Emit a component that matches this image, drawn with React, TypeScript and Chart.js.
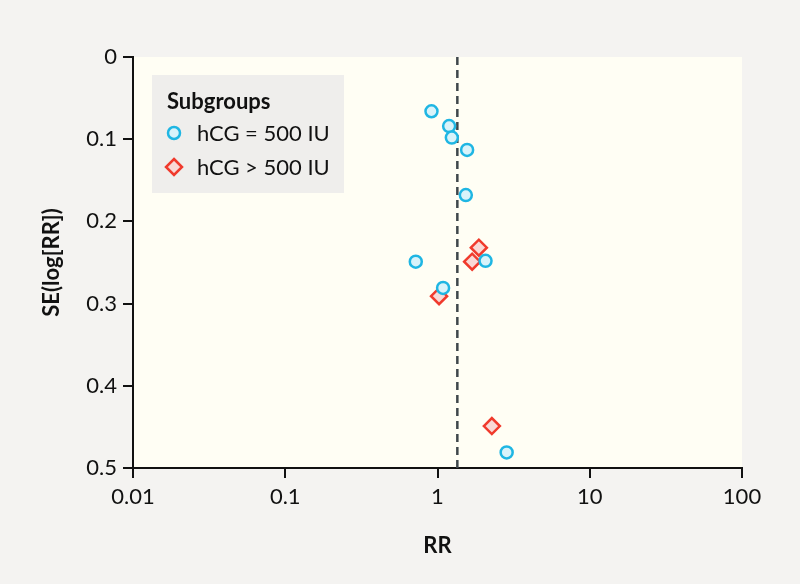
import React, { useEffect, useRef } from "react";
import { Chart, registerables } from "chart.js";

Chart.register(...registerables);

// ---- data ----
const groupALabel = "hCG = 500 IU";
const groupARR = [0.913, 1.192, 1.242, 1.565, 1.535, 0.72, 2.068, 1.088, 2.846];
const groupASE = [0.066, 0.084, 0.098, 0.113, 0.168, 0.249, 0.248, 0.281, 0.481];

const groupBLabel = "hCG > 500 IU";
const groupBRR = [1.869, 1.689, 1.024, 2.275];
const groupBSE = [0.232, 0.249, 0.291, 0.449];

const pooledRR = 1.35;
const seRange = [0, 0.5];

const xTickValues = [0.01, 0.1, 1, 10, 100];
const xTickLabels = ["0.01", "0.1", "1", "10", "100"];
const yTickValues = [0, 0.1, 0.2, 0.3, 0.4, 0.5];
const yTickLabels = ["0", "0.1", "0.2", "0.3", "0.4", "0.5"];

const legendTitle = "Subgroups";
const xTitle = "RR";
const yTitle = "SE(log[RR])";

// ---- styles ----
const FONT = "Lato, 'Noto Sans', sans-serif";
const BLUE = "#1fb6e3";
const BLUE_FILL = "#d9f3fa";
const RED = "#f03a2c";
const RED_FILL = "#f9d9d6";
const PAGE_BG = "#f4f3f1";
const AREA_BG = "#fffef4";
const LEGEND_BG = "#efeeec";
const INK = "#111111";

const bgPlugin = {
  id: "bgPlugin",
  beforeDraw(chart: any) {
    const { ctx, chartArea, width, height } = chart;
    ctx.save();
    ctx.fillStyle = PAGE_BG;
    ctx.fillRect(0, 0, width, height);
    ctx.fillStyle = AREA_BG;
    ctx.fillRect(chartArea.left, chartArea.top, chartArea.right - chartArea.left, chartArea.bottom - chartArea.top);
    ctx.restore();
  },
};

const legendPlugin = {
  id: "customLegend",
  afterDatasetsDraw(chart: any) {
    const { ctx, chartArea } = chart;
    const x0 = chartArea.left + 19;
    const y0 = chartArea.top + 18;
    ctx.save();
    ctx.fillStyle = LEGEND_BG;
    ctx.fillRect(x0, y0, 192, 118);
    ctx.fillStyle = INK;
    ctx.textBaseline = "middle";
    ctx.textAlign = "left";
    ctx.font = `bold 22px ${FONT}`;
    ctx.fillText(legendTitle, x0 + 15, y0 + 27);
    ctx.font = `22px ${FONT}`;
    const items = [
      { label: groupALabel, y: y0 + 58, kind: "circle" },
      { label: groupBLabel, y: y0 + 92, kind: "diamond" },
    ];
    for (const it of items) {
      const mx = x0 + 22;
      ctx.lineWidth = 2.5;
      ctx.beginPath();
      if (it.kind === "circle") {
        ctx.arc(mx, it.y, 6, 0, Math.PI * 2);
        ctx.fillStyle = BLUE_FILL;
        ctx.strokeStyle = BLUE;
      } else {
        const r = 8;
        ctx.moveTo(mx, it.y - r);
        ctx.lineTo(mx + r, it.y);
        ctx.lineTo(mx, it.y + r);
        ctx.lineTo(mx - r, it.y);
        ctx.closePath();
        ctx.fillStyle = RED_FILL;
        ctx.strokeStyle = RED;
      }
      ctx.fill();
      ctx.stroke();
      ctx.fillStyle = INK;
      ctx.fillText(it.label, x0 + 45, it.y + 1);
    }
    ctx.restore();
  },
};

const findLabel = (vals: number[], labels: string[], v: any) => {
  const i = vals.findIndex((t) => Math.abs(t - Number(v)) < 1e-9);
  return i >= 0 ? labels[i] : "";
};

export default function App() {
  const ref = useRef<HTMLCanvasElement | null>(null);

  useEffect(() => {
    if (!ref.current) return;
    const chart = new Chart(ref.current, {
      type: "scatter",
      data: {
        datasets: [
          {
            label: groupALabel,
            data: groupARR.map((v, i) => ({ x: v, y: groupASE[i] })),
            pointStyle: "circle",
            pointRadius: 6,
            pointBorderWidth: 2.5,
            borderColor: BLUE,
            backgroundColor: BLUE_FILL,
            order: 1,
          },
          {
            label: groupBLabel,
            data: groupBRR.map((v, i) => ({ x: v, y: groupBSE[i] })),
            pointStyle: "rectRot",
            pointRadius: 8,
            pointBorderWidth: 2.5,
            borderColor: RED,
            backgroundColor: RED_FILL,
            order: 2,
          },
          {
            label: "pooled",
            data: seRange.map((s) => ({ x: pooledRR, y: s })),
            showLine: true,
            pointRadius: 0,
            borderColor: "#3f474b",
            borderWidth: 2.5,
            borderDash: [8, 5],
            order: 3,
          } as any,
        ],
      },
      options: {
        responsive: false,
        animation: false,
        devicePixelRatio: 1,
        layout: { padding: { top: 57, right: 58, left: 0, bottom: 0 } },
        plugins: {
          legend: { display: false },
          tooltip: { enabled: false },
        },
        scales: {
          x: {
            type: "logarithmic",
            min: 0.01,
            max: 100,
            afterBuildTicks: (s: any) => {
              s.ticks = xTickValues.map((v) => ({ value: v }));
            },
            afterFit: (s: any) => {
              s.height = 116;
            },
            ticks: {
              autoSkip: false,
              maxRotation: 0,
              padding: 6,
              color: INK,
              font: { family: FONT, size: 22 },
              callback: (v: any) => findLabel(xTickValues, xTickLabels, v),
            },
            grid: { drawOnChartArea: false, drawTicks: true, tickLength: 10, color: INK, lineWidth: 2 },
            border: { display: true, color: INK, width: 2 },
            title: {
              display: true,
              text: xTitle,
              color: INK,
              font: { family: FONT, size: 22, weight: "bold" },
              padding: { top: 0, bottom: 25 },
            },
          },
          y: {
            type: "linear",
            reverse: true,
            min: 0,
            max: 0.5,
            afterBuildTicks: (s: any) => {
              s.ticks = yTickValues.map((v) => ({ value: v }));
            },
            afterFit: (s: any) => {
              s.width = 133;
            },
            ticks: {
              autoSkip: false,
              padding: 6,
              color: INK,
              font: { family: FONT, size: 22 },
              callback: (v: any) => findLabel(yTickValues, yTickLabels, v),
            },
            grid: { drawOnChartArea: false, drawTicks: true, tickLength: 10, color: INK, lineWidth: 2 },
            border: { display: true, color: INK, width: 2 },
            title: {
              display: true,
              text: yTitle,
              color: INK,
              font: { family: FONT, size: 22, weight: "bold" },
              padding: { top: 39, bottom: 0 },
            },
          },
        },
      },
      plugins: [bgPlugin, legendPlugin],
    });
    return () => chart.destroy();
  }, []);

  return (
    <div style={{ position: "fixed", left: 0, top: 0, width: 800, height: 584, background: PAGE_BG }}>
      <canvas ref={ref} width={800} height={584} style={{ width: 800, height: 584, display: "block" }} />
    </div>
  );
}
